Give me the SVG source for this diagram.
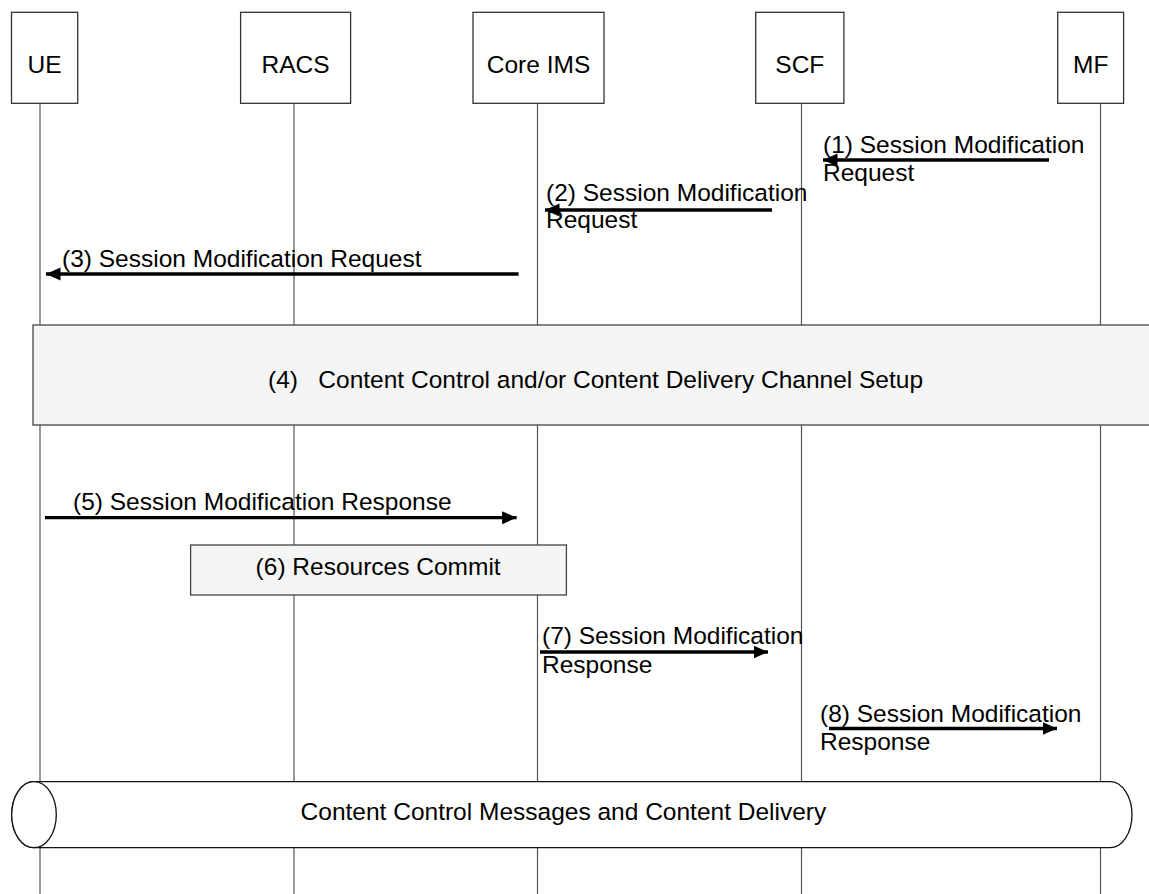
<svg xmlns="http://www.w3.org/2000/svg" width="1149" height="894" viewBox="0 0 1149 894">
<style>
text{font-family:"Liberation Sans",Arial,sans-serif;font-size:24.5px;fill:#000}
.mid{text-anchor:middle}
.node{fill:#fff;stroke:#333;stroke-width:1.3}
.life{stroke:#555;stroke-width:1.2;fill:none}
.msg{stroke:#000;stroke-width:3.3;fill:none;marker-end:url(#ah)}
.band{fill:#f5f5f5;stroke:#444;stroke-width:1.3}
.cyl{fill:#fff;stroke:#111;stroke-width:1.3}
</style>
<defs>
<marker id="ah" markerUnits="userSpaceOnUse" markerWidth="15" markerHeight="14" refX="14.5" refY="6.5" orient="auto">
<path d="M0,0 L14.5,6.5 L0,13 Z" fill="#000"/>
</marker>
</defs>
<rect width="1149" height="894" fill="#fff"/>
<g id="lifelines">
<line class="life" x1="40" y1="103" x2="40" y2="894"/>
<line class="life" x1="294" y1="103" x2="294" y2="894"/>
<line class="life" x1="537.5" y1="103" x2="537.5" y2="894"/>
<line class="life" x1="801.5" y1="103" x2="801.5" y2="894"/>
<line class="life" x1="1100.5" y1="103" x2="1100.5" y2="894"/>
</g>
<g id="UE"><rect class="node" x="11.5" y="12.3" width="66.2" height="91"/><text class="mid" x="44.6" y="72.7">UE</text></g>
<g id="RACS"><rect class="node" x="240.6" y="12.3" width="110" height="91"/><text class="mid" x="295.6" y="72.7">RACS</text></g>
<g id="CoreIMS"><rect class="node" x="473" y="12.3" width="131" height="91"/><text class="mid" x="538.5" y="72.7">Core IMS</text></g>
<g id="SCF"><rect class="node" x="755.7" y="12.3" width="88.2" height="91"/><text class="mid" x="799.8" y="72.7">SCF</text></g>
<g id="MF"><rect class="node" x="1057.7" y="12.3" width="65.9" height="91"/><text class="mid" x="1090.7" y="72.7">MF</text></g>
<g id="step4"><rect class="band" x="33" y="325" width="1120" height="100"/><text x="268" y="387.5" xml:space="preserve">(4)   Content Control and/or Content Delivery Channel Setup</text></g>
<g id="step6"><rect class="band" x="190.6" y="545" width="375.8" height="50"/><text x="255.6" y="575">(6) Resources Commit</text></g>
<g id="content">
<path class="cyl" d="M34,781.7 H1110 A22,33 0 0 1 1110,847.7 H34 A22.3,33 0 0 1 34,781.7 Z"/>
<ellipse class="cyl" cx="34" cy="814.7" rx="22.3" ry="33"/>
<text x="300.6" y="820">Content Control Messages and Content Delivery</text>
</g>
<g id="connectors">
<line class="msg" x1="1049" y1="160" x2="823" y2="160"/>
<line class="msg" x1="772" y1="210" x2="545" y2="210"/>
<line class="msg" x1="518.6" y1="274" x2="46" y2="274"/>
<line class="msg" x1="45" y1="517.7" x2="516.6" y2="517.7"/>
<line class="msg" x1="540" y1="652" x2="768" y2="652"/>
<line class="msg" x1="829" y1="728.5" x2="1057" y2="728.5"/>
</g>
<g id="labels">
<text x="823" y="153">(1) Session Modification</text>
<text x="823" y="181">Request</text>
<text x="546" y="201">(2) Session Modification</text>
<text x="546" y="228">Request</text>
<text x="62" y="267">(3) Session Modification Request</text>
<text x="73" y="510">(5) Session Modification Response</text>
<text x="542" y="644">(7) Session Modification</text>
<text x="542" y="673">Response</text>
<text x="820" y="722">(8) Session Modification</text>
<text x="820" y="750">Response</text>
</g>
</svg>
